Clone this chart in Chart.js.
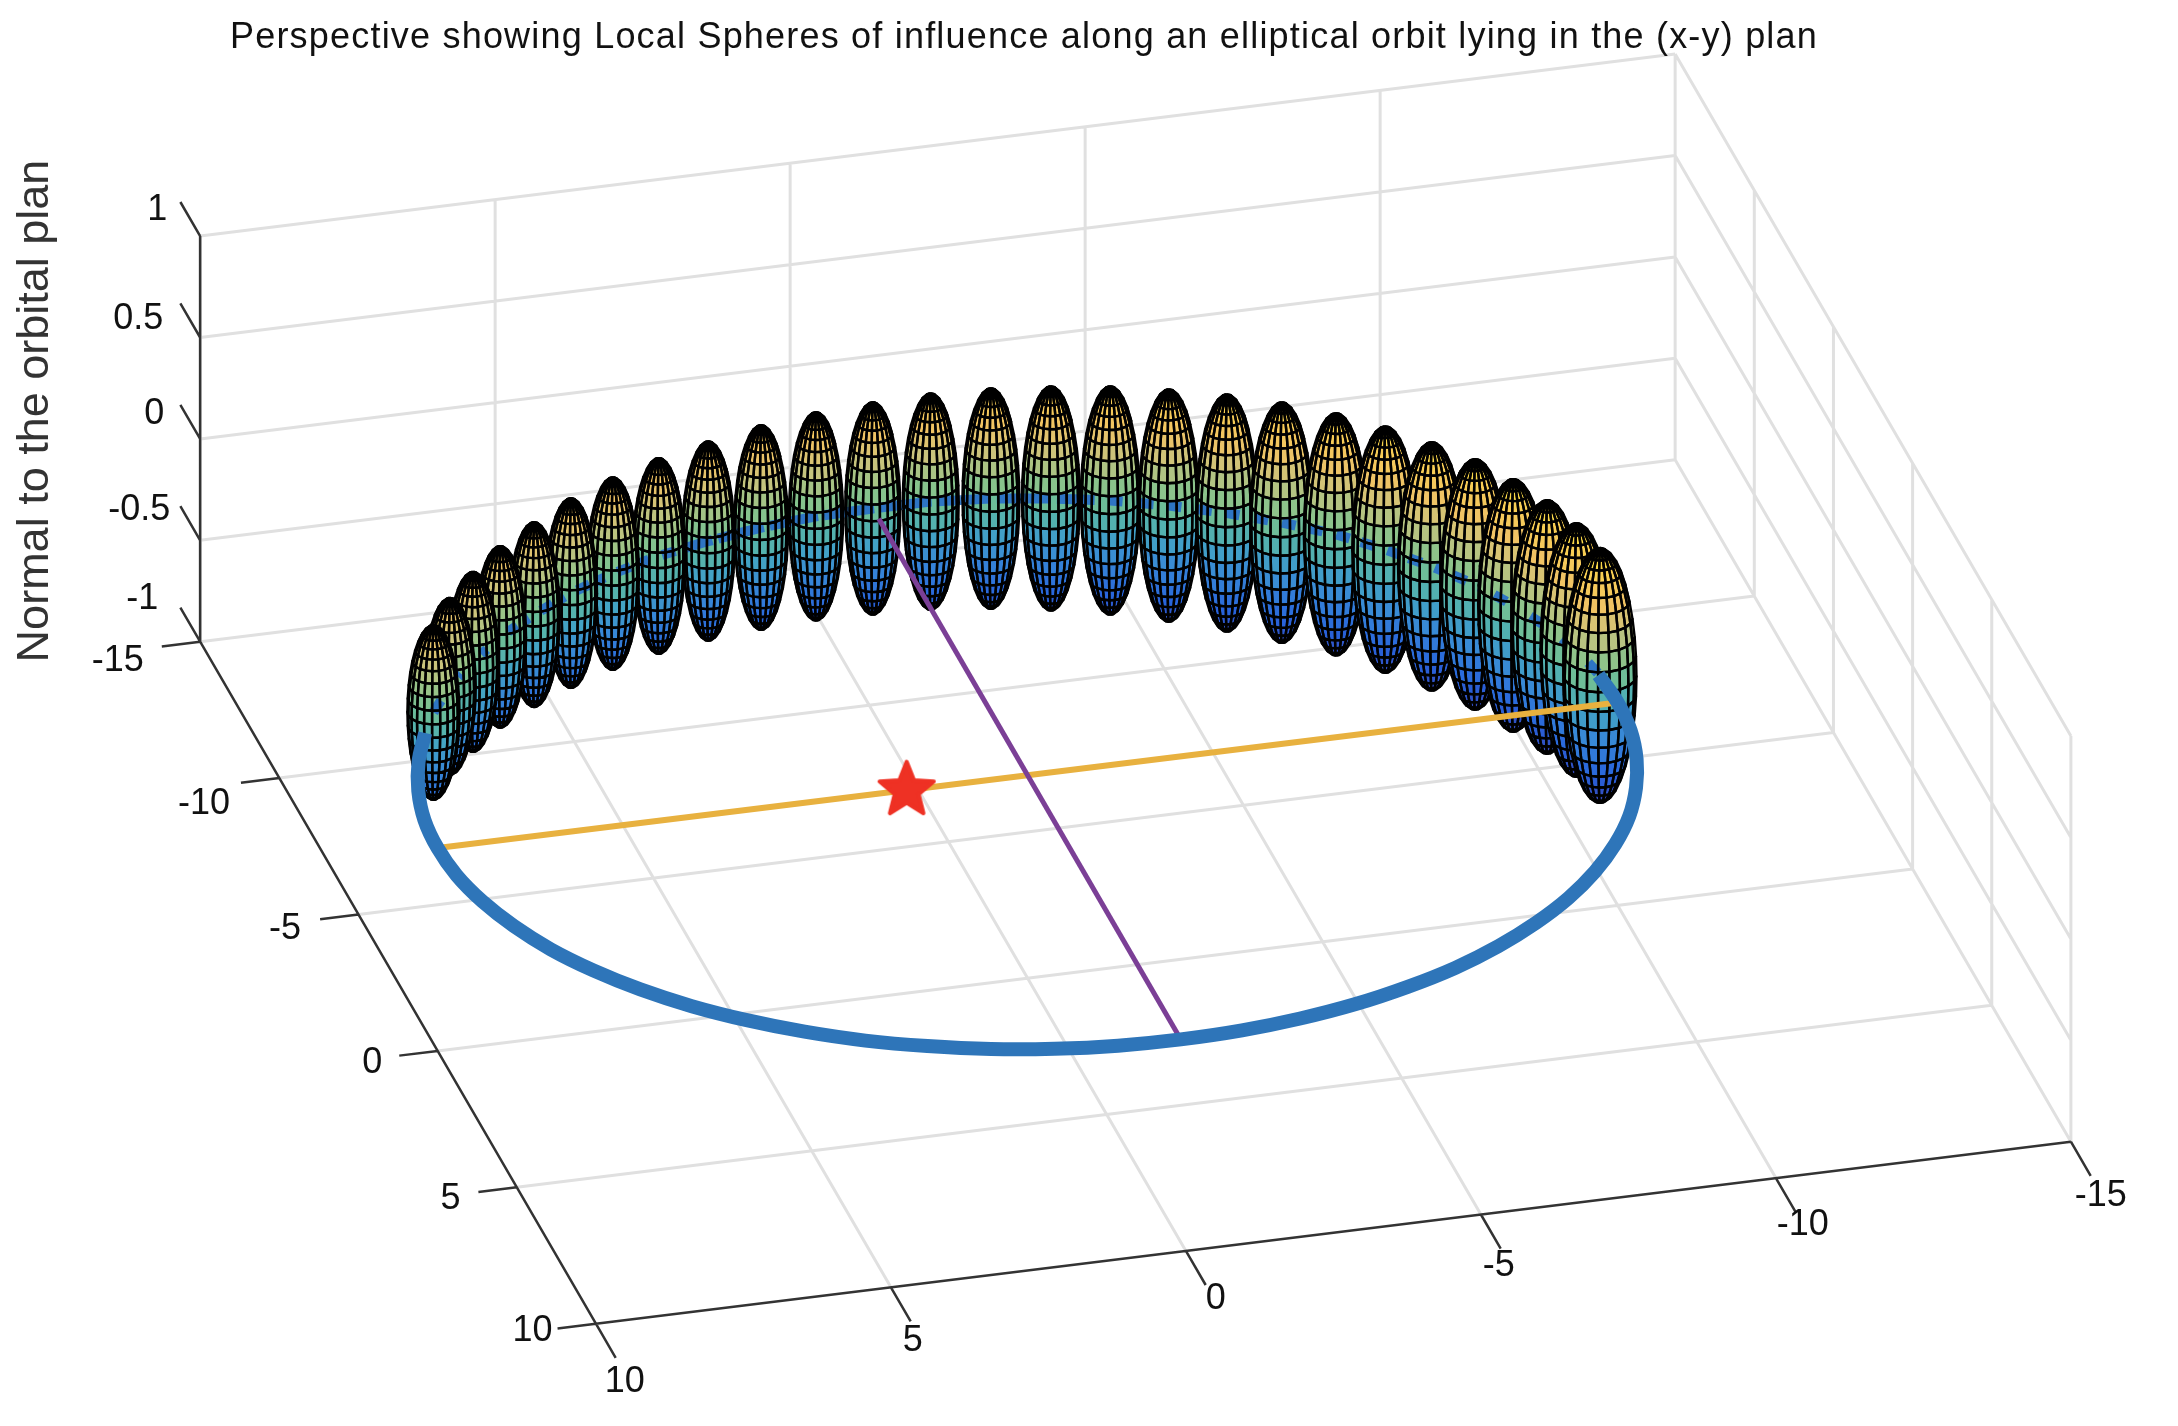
<!DOCTYPE html>
<html>
<head>
<meta charset="utf-8">
<title>Local spheres of influence</title>
<script src="https://cdn.jsdelivr.net/npm/chart.js@4"></script>
<style>
  html, body { margin: 0; padding: 0; background: #fff; }
  canvas { display: block; }
</style>
</head>
<body>
<canvas id="orbitChart" width="2178" height="1426"></canvas>
<script>
const titleText = 'Perspective showing Local Spheres of influence along an elliptical orbit lying in the (x-y) plan';
const zAxisTitle = 'Normal to the orbital plan';

// tick values of the three axes (u = front axis, v = left axis)
const uTicks = [10, 5, 0, -5, -10, -15];
const vTicks = [-15, -10, -5, 0, 5, 10];
const zTicks = [-1, -0.5, 0, 0.5, 1];

// centres and radii of the spheres along the back of the orbit
const sphereU = [8.82, 8.32, 7.73, 7.07, 6.33, 5.55, 4.71, 3.82, 2.90, 1.94, 0.97, 0.0, -0.98, -1.96, -2.91, -3.83, -4.71, -5.56, -6.34, -7.09, -7.73, -8.31, -8.83, -9.24, -9.58, -9.83, -9.97];
const sphereV = [-4.66, -5.48, -6.22, -6.96, -7.58, -8.16, -8.65, -9.06, -9.36, -9.60, -9.75, -9.78, -9.77, -9.62, -9.37, -9.05, -8.63, -8.13, -7.57, -6.94, -6.21, -5.44, -4.64, -3.76, -2.88, -1.97, -1.0];
const sphereRz = [0.427, 0.432, 0.440, 0.444, 0.452, 0.464, 0.471, 0.479, 0.488, 0.501, 0.510, 0.520, 0.530, 0.540, 0.549, 0.559, 0.569, 0.581, 0.589, 0.593, 0.603, 0.608, 0.613, 0.618, 0.620, 0.620, 0.623];
const sphereRxy = [0.427, 0.423, 0.422, 0.422, 0.420, 0.427, 0.429, 0.431, 0.434, 0.441, 0.444, 0.452, 0.458, 0.467, 0.475, 0.484, 0.495, 0.505, 0.518, 0.528, 0.543, 0.553, 0.564, 0.575, 0.583, 0.589, 0.598];

// front of the orbit, from the left sphere round to the right one
const orbitU = [9.14, 9.51, 9.78, 9.95, 10, 9.95, 9.78, 9.51, 9.14, 8.66, 8.09, 7.43, 6.69, 5.88, 5, 4.07, 3.09, 2.08, 1.05, 0, -1.05, -2.08, -3.09, -4.07, -5, -5.88, -6.69, -7.43, -8.09, -8.66, -9.14, -9.51, -9.78, -9.95, -10, -9.95];
const orbitV = [-3.99, -3.03, -2.04, -1.02, 0, 1.01, 2.02, 2.99, 3.94, 4.84, 5.69, 6.48, 7.19, 7.83, 8.39, 8.84, 9.21, 9.47, 9.63, 9.68, 9.63, 9.47, 9.21, 8.84, 8.39, 7.83, 7.19, 6.48, 5.69, 4.84, 3.94, 2.99, 2.02, 1.01, 0, -1.02];

const majorU = [10, -10];
const majorV = [0, 0];
const minorU = [0, 0];
const minorV = [-9.4, 9.7];
const starU = [2.05];
const starV = [0];

// sphere mesh, 20 x 20 like matlab's sphere()
const meshLat = [-90, -81, -72, -63, -54, -45, -36, -27, -18, -9, 0, 9, 18, 27, 36, 45, 54, 63, 72, 81, 90];
const meshLon = [0, 18, 36, 54, 72, 90, 108, 126, 144, 162, 180, 198, 216, 234, 252, 270, 288, 306, 324, 342, 360];

// colours from z, bottom to top of the biggest sphere
const cmapPos = [0, 0.15, 0.30, 0.42, 0.50, 0.60, 0.72, 0.82, 0.92, 1];
const cmapRgb = [[55, 65, 175], [40, 100, 220], [55, 135, 215], [68, 165, 195], [95, 186, 160], [135, 195, 140], [200, 195, 125], [240, 195, 100], [248, 205, 85], [250, 225, 60]];

// view: the projection is parallel, so one step along an axis is always the same shift
const origin = { x: 1027.6, y: 775.3 };
const stepU = { x: -59.0, y: 7.28 };
const stepV = { x: 15.83, y: 27.28 };
const stepZ = { x: 0, y: -202.8 };
const viewDir = [3210, 11965, 1724.8];

function project(u, v, z) {
  return {
    x: origin.x + u * stepU.x + v * stepV.x + z * stepZ.x,
    y: origin.y + u * stepU.y + v * stepV.y + z * stepZ.y
  };
}

// several segments in one dataset, split by NaN points
function segments(list) {
  const pts = [];
  list.forEach(s => {
    pts.push(project(s[0], s[1], s[2]), project(s[3], s[4], s[5]), { x: NaN, y: NaN });
  });
  return pts;
}

const uMin = -15, uMax = 10, vMin = -15, vMax = 10, zMin = -1, zMax = 1;
const gridSegs = [];
uTicks.forEach(u => {
  if (u !== uMax) gridSegs.push([u, vMin, zMin, u, vMax, zMin]);
  gridSegs.push([u, vMin, zMin, u, vMin, zMax]);
});
vTicks.forEach(v => {
  if (v !== vMax) gridSegs.push([uMin, v, zMin, uMax, v, zMin]);
  gridSegs.push([uMin, v, zMin, uMin, v, zMax]);
});
zTicks.forEach(z => {
  gridSegs.push([uMin, vMin, z, uMax, vMin, z]);
  gridSegs.push([uMin, vMin, z, uMin, vMax, z]);
});

const axisSegs = [
  [uMax, vMin, zMin, uMax, vMin, zMax],
  [uMax, vMin, zMin, uMax, vMax, zMin],
  [uMax, vMax, zMin, uMin, vMax, zMin]
];
zTicks.forEach(z => axisSegs.push([uMax, vMin, z, uMax, vMin - 1.25, z]));
vTicks.forEach(v => axisSegs.push([uMax, v, zMin, uMax + 0.65, v, zMin]));
uTicks.forEach(u => axisSegs.push([u, vMax, zMin, u, vMax + 1.25, zMin]));

// label nudges in pixels from the tick ends
const zLabelNudge = [[-38, -9], [-41, 4], [-26, 9], [-42, 16], [-23, 8]];
const vLabelNudge = [[-44, 15], [-37, 21], [-35, 10], [-27, 7], [-28, 7], [-25, 3]];
const uLabelNudge = [[9, 24], [2, 20], [10, 14], [-2, 17], [7, 13], [10, 20]];

function colorAt(t) {
  let i = 0;
  while (i < cmapPos.length - 2 && t > cmapPos[i + 1]) i++;
  const f = Math.min(1, Math.max(0, (t - cmapPos[i]) / (cmapPos[i + 1] - cmapPos[i])));
  const a = cmapRgb[i], b = cmapRgb[i + 1];
  return `rgb(${a.map((c, k) => Math.round(c + (b[k] - c) * f)).join(',')})`;
}

function drawSphere(ctx, xs, ys, i) {
  const cu = sphereU[i], cv = sphereV[i], rz = sphereRz[i], rxy = sphereRxy[i];
  const rad = Math.PI / 180;
  const zTop = Math.max(...sphereRz);
  const corner = (la, lo) => {
    const c = Math.cos(la * rad);
    return [cu + rxy * c * Math.cos(lo * rad), cv + rxy * c * Math.sin(lo * rad), rz * Math.sin(la * rad)];
  };
  const toPx = p => {
    const q = project(p[0], p[1], p[2]);
    return [xs.getPixelForValue(q.x), ys.getPixelForValue(q.y)];
  };
  const faces = [];
  for (let a = 0; a < meshLat.length - 1; a++) {
    for (let b = 0; b < meshLon.length - 1; b++) {
      const la = (meshLat[a] + meshLat[a + 1]) / 2, lo = (meshLon[b] + meshLon[b + 1]) / 2;
      const c = Math.cos(la * rad);
      const nx = c * Math.cos(lo * rad) / rxy, ny = c * Math.sin(lo * rad) / rxy, nz = Math.sin(la * rad) / rz;
      if (nx * viewDir[0] + ny * viewDir[1] + nz * viewDir[2] <= 0) continue;
      faces.push({
        pts: [corner(meshLat[a], meshLon[b]), corner(meshLat[a], meshLon[b + 1]), corner(meshLat[a + 1], meshLon[b + 1]), corner(meshLat[a + 1], meshLon[b])].map(toPx),
        t: (rz * Math.sin(la * rad) + zTop) / (2 * zTop)
      });
    }
  }
  const trace = pts => {
    ctx.beginPath();
    pts.forEach((p, k) => (k ? ctx.lineTo(p[0], p[1]) : ctx.moveTo(p[0], p[1])));
    ctx.closePath();
  };
  ctx.lineWidth = 0.6;
  faces.forEach(f => {
    const col = colorAt(f.t);
    trace(f.pts);
    ctx.fillStyle = col;
    ctx.strokeStyle = col;
    ctx.fill();
    ctx.stroke();
  });
  // the orbit flickers through the surface, under the mesh lines
  const prev = i > 0 ? i - 1 : i, next = i < sphereU.length - 1 ? i + 1 : i;
  const from = toPx([(sphereU[prev] + cu) / 2, (sphereV[prev] + cv) / 2, 0]);
  const mid = toPx([cu, cv, 0]);
  const to = toPx([(sphereU[next] + cu) / 2, (sphereV[next] + cv) / 2, 0]);
  ctx.save();
  ctx.beginPath();
  ctx.moveTo(from[0], from[1]);
  ctx.lineTo(mid[0], mid[1]);
  ctx.lineTo(to[0], to[1]);
  ctx.setLineDash(Math.abs(cu) < 3 ? [30, 6] : [14, 14]);
  ctx.lineWidth = 10;
  ctx.strokeStyle = '#2e75c4';
  ctx.stroke();
  ctx.restore();

  ctx.lineWidth = 2.4;
  ctx.lineJoin = 'round';
  ctx.strokeStyle = '#000';
  faces.forEach(f => {
    trace(f.pts);
    ctx.stroke();
  });
}

const sphereLayer = {
  id: 'sphereLayer',
  afterDatasetDraw(chart, args) {
    if (chart.data.datasets[args.index].label !== 'Spheres') return;
    const ctx = chart.ctx;
    const order = sphereU.map((u, i) => i).sort((a, b) =>
      (sphereU[a] * viewDir[0] + sphereV[a] * viewDir[1]) - (sphereU[b] * viewDir[0] + sphereV[b] * viewDir[1]));
    ctx.save();
    order.forEach(i => drawSphere(ctx, chart.scales.x, chart.scales.y, i));
    ctx.restore();
  }
};

const textLayer = {
  id: 'textLayer',
  afterDraw(chart) {
    const ctx = chart.ctx;
    const xs = chart.scales.x, ys = chart.scales.y;
    ctx.save();
    ctx.textAlign = 'center';
    ctx.textBaseline = 'middle';

    ctx.fillStyle = '#111';
    ctx.font = '36px "Liberation Sans"';
    ctx.letterSpacing = '1.2px';
    ctx.fillText(titleText, xs.getPixelForValue(1024), ys.getPixelForValue(38));
    ctx.letterSpacing = '0px';

    ctx.save();
    ctx.translate(xs.getPixelForValue(36), ys.getPixelForValue(411));
    ctx.rotate(-Math.PI / 2);
    ctx.fillStyle = '#333';
    ctx.font = '45px "Liberation Sans"';
    ctx.fillText(zAxisTitle, 0, 0);
    ctx.restore();

    // the lowest label is cut by the edge of the original figure
    ctx.beginPath();
    ctx.rect(0, 0, 2178, 1396);
    ctx.clip();
    ctx.fillStyle = '#111';
    ctx.font = '36px "Liberation Sans"';
    const label = (p, nudge, text) => {
      ctx.fillText(text, xs.getPixelForValue(p.x) + nudge[0], ys.getPixelForValue(p.y) + nudge[1]);
    };
    zTicks.forEach((z, i) => label(project(uMax, vMin - 1.25, z), zLabelNudge[i], String(z)));
    vTicks.forEach((v, i) => label(project(uMax + 0.65, v, zMin), vLabelNudge[i], String(v)));
    uTicks.forEach((u, i) => label(project(u, vMax + 1.25, zMin), uLabelNudge[i], String(u)));
    ctx.restore();
  }
};

// red pentagram marker
function starMarker() {
  const c = document.createElement('canvas');
  c.width = 70;
  c.height = 70;
  const g = c.getContext('2d');
  const R = 28.5, r = 12.5;
  g.translate(35, 35);
  g.beginPath();
  for (let k = 0; k < 10; k++) {
    const a = -Math.PI / 2 + k * Math.PI / 5;
    const l = k % 2 ? r : R;
    g.lineTo(l * Math.cos(a), l * Math.sin(a));
  }
  g.closePath();
  g.fillStyle = '#ee3124';
  g.strokeStyle = '#ee3124';
  g.lineWidth = 4;
  g.lineJoin = 'round';
  g.fill();
  g.stroke();
  return c;
}

function line(label, pts, color, width, order, extra) {
  return Object.assign({
    label: label,
    data: pts,
    showLine: true,
    borderColor: color,
    borderWidth: width,
    pointRadius: 0,
    order: order,
    clip: false
  }, extra || {});
}

new Chart(document.getElementById('orbitChart'), {
  type: 'scatter',
  data: {
    datasets: [
      line('Grid', segments(gridSegs), '#e0e0e0', 3, 10),
      line('Axes', segments(axisSegs), '#333333', 2.5, 9),
      line('Spheres', sphereU.map((u, i) => project(u, sphereV[i], 0)), 'rgba(0,0,0,0)', 0, 8, { showLine: false }),
      line('Major axis', majorU.map((u, i) => project(u, majorV[i], 0)), '#e8b13f', 6, 7),
      line('Minor axis', minorU.map((u, i) => project(u, minorV[i], 0)), '#7b3f96', 5, 6),
      line('Orbit', orbitU.map((u, i) => project(u, orbitV[i], 0)), '#2e75b9', 14, 5, { tension: 0.4 }),
      line('Focus', starU.map((u, i) => project(u, starV[i], 0)), '#ee3124', 0, 4, { showLine: false, pointRadius: 30, pointStyle: starMarker() })
    ]
  },
  options: {
    responsive: false,
    animation: false,
    layout: { padding: 0, autoPadding: false },
    plugins: { legend: { display: false }, tooltip: { enabled: false }, title: { display: false } },
    scales: {
      x: { type: 'linear', min: 0, max: 2178, display: false },
      y: { type: 'linear', min: 0, max: 1426, reverse: true, display: false }
    }
  },
  plugins: [sphereLayer, textLayer]
});
</script>
</body>
</html>
